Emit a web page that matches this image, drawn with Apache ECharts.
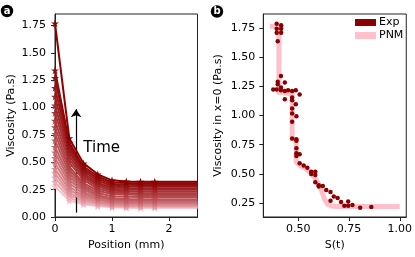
<!DOCTYPE html>
<html><head><meta charset="utf-8">
<script src="https://cdn.jsdelivr.net/npm/echarts@6/dist/echarts.min.js"></script>
<style>html,body{margin:0;padding:0;background:#fff}#c{width:415px;height:257px}</style>
</head><body><div id="c"></div>
<script>
// Panel a: positions (mm) and viscosity curves (earliest/lightest first)
const POSITIONS = [0, 0.25, 0.5, 0.75, 1.0, 1.25, 1.5, 1.75, 2.5];
const CURVES = [
  [0.28, 0.15, 0.115, 0.10, 0.088, 0.085, 0.085, 0.085, 0.085],
  [0.32, 0.175, 0.13, 0.11, 0.095, 0.092, 0.09, 0.09, 0.09],
  [0.36, 0.20, 0.145, 0.12, 0.102, 0.10, 0.10, 0.10, 0.10],
  [0.40, 0.22, 0.16, 0.13, 0.11, 0.106, 0.105, 0.105, 0.105],
  [0.44, 0.25, 0.175, 0.14, 0.12, 0.116, 0.115, 0.115, 0.115],
  [0.49, 0.28, 0.19, 0.155, 0.13, 0.126, 0.125, 0.125, 0.125],
  [0.54, 0.31, 0.21, 0.165, 0.14, 0.135, 0.133, 0.133, 0.133],
  [0.59, 0.34, 0.23, 0.175, 0.15, 0.145, 0.142, 0.142, 0.142],
  [0.64, 0.37, 0.25, 0.19, 0.162, 0.155, 0.152, 0.152, 0.152],
  [0.70, 0.40, 0.27, 0.20, 0.172, 0.165, 0.162, 0.162, 0.162],
  [0.76, 0.43, 0.29, 0.22, 0.19, 0.185, 0.182, 0.182, 0.182],
  [0.82, 0.46, 0.31, 0.24, 0.21, 0.205, 0.20, 0.20, 0.20],
  [0.88, 0.50, 0.34, 0.26, 0.225, 0.22, 0.216, 0.216, 0.216],
  [0.95, 0.53, 0.36, 0.28, 0.24, 0.235, 0.232, 0.232, 0.232],
  [1.02, 0.56, 0.38, 0.295, 0.255, 0.25, 0.248, 0.248, 0.248],
  [1.10, 0.59, 0.40, 0.31, 0.27, 0.265, 0.262, 0.262, 0.262],
  [1.18, 0.62, 0.42, 0.33, 0.285, 0.28, 0.278, 0.278, 0.278],
  [1.27, 0.65, 0.44, 0.35, 0.30, 0.295, 0.292, 0.292, 0.292],
  [1.34, 0.68, 0.46, 0.37, 0.315, 0.31, 0.308, 0.308, 0.308],
  [1.77, 0.72, 0.49, 0.39, 0.335, 0.325, 0.322, 0.322, 0.322]
];
const LEFT_Y_TICKS = [0, 0.25, 0.5, 0.75, 1.0, 1.25, 1.5, 1.75];
const LEFT_X_TICKS = [0, 1, 2];

// Panel b: S(t) vs viscosity at x=0
const EXP_S = [0.394,0.416,0.394,0.416,0.394,0.416,0.399,0.415,0.399,0.399,0.434,0.377,0.394,0.415,0.415,0.434,0.450,0.470,0.488,0.507,0.434,0.470,0.470,0.488,0.470,0.470,0.491,0.470,0.470,0.491,0.491,0.491,0.491,0.491,0.507,0.507,0.527,0.545,0.564,0.564,0.584,0.584,0.584,0.601,0.601,0.621,0.638,0.659,0.675,0.694,0.659,0.711,0.727,0.746,0.746,0.767,0.805,0.860];
const EXP_V = [1.785,1.773,1.742,1.742,1.708,1.708,1.636,1.338,1.290,1.267,1.282,1.222,1.222,1.239,1.216,1.210,1.216,1.210,1.216,1.179,1.139,1.154,1.131,1.097,1.060,1.017,0.994,0.946,0.804,0.796,0.784,0.719,0.676,0.653,0.668,0.591,0.571,0.553,0.519,0.500,0.519,0.491,0.429,0.403,0.392,0.397,0.363,0.344,0.306,0.293,0.270,0.259,0.227,0.227,0.264,0.233,0.210,0.216];
const PNM_S = [0.36,0.405,0.405,0.44,0.47,0.47,0.49,0.49,0.51,0.535,0.56,0.58,0.595,0.61,0.62,0.63,0.645,0.665,0.70,1.0];
const PNM_V = [1.765,1.765,1.20,1.19,1.185,0.80,0.79,0.60,0.57,0.545,0.51,0.47,0.43,0.38,0.33,0.28,0.24,0.225,0.22,0.22];
const RIGHT_X_TICKS = [0.5, 0.75, 1.0];
const RIGHT_Y_TICKS = [0.25, 0.5, 0.75, 1.0, 1.25, 1.5, 1.75];

const FONT = 'DejaVu Sans';
const AX = '#222';
const STAR = 'path://M50,0 L61,35 L98,35 L68,57 L79,91 L50,70 L21,91 L32,57 L2,35 L39,35 Z';

function mix(i, n) {
  const a = [248, 190, 200], b = [139, 0, 0];
  const t = Math.pow(n > 1 ? i / (n - 1) : 1, 0.8);
  const c = a.map((v, k) => Math.round(v + (b[k] - v) * t));
  return 'rgb(' + c.join(',') + ')';
}

const series = [];
CURVES.forEach((vals, i) => {
  const col = mix(i, CURVES.length);
  const data = vals.map((v, k) => {
    const pt = [POSITIONS[k], v];
    return k === vals.length - 1 ? { value: pt, symbol: 'none' } : pt;
  });
  series.push({
    type: 'line', xAxisIndex: 0, yAxisIndex: 0, data,
    symbol: STAR, symbolSize: 8, showSymbol: true, showAllSymbol: true, clip: true,
    lineStyle: { color: col, width: 2 }, itemStyle: { color: col, opacity: 1 },
    silent: true, animation: false, z: 2 + i
  });
});
// arrow "Time"
series.push({
  type: 'line', xAxisIndex: 0, yAxisIndex: 0, data: [], silent: true, animation: false,
  markLine: {
    silent: true, animation: false, symbol: ['none', 'arrow'], symbolSize: 8,
    label: { show: false },
    lineStyle: { color: '#000', width: 1.2, type: 'solid' },
    data: [[{ coord: [0.37, 0.04] }, { coord: [0.37, 0.985] }]]
  }, z: 50
});
series.push({
  name: 'PNM', type: 'line', xAxisIndex: 1, yAxisIndex: 1,
  data: PNM_S.map((s, i) => [s, PNM_V[i]]), symbol: 'none',
  lineStyle: { color: '#ffc0cb', width: 5, join: 'miter' }, itemStyle: { color: '#ffc0cb' },
  silent: true, animation: false, z: 2
});
series.push({
  name: 'Exp', type: 'scatter', xAxisIndex: 1, yAxisIndex: 1,
  data: EXP_S.map((s, i) => [s, EXP_V[i]]), symbol: 'circle', symbolSize: 4.5,
  itemStyle: { color: '#8b0000', opacity: 1 }, silent: true, animation: false, z: 3
});

const axCommon = {
  axisLine: { show: true, onZero: false, lineStyle: { color: AX, width: 1 } },
  axisTick: { show: true, length: 4, lineStyle: { color: AX } },
  splitLine: { show: false },
  axisLabel: { color: '#000', fontFamily: FONT, fontSize: 11 },
  nameTextStyle: { color: '#000', fontFamily: FONT, fontSize: 11 }
};

const option = {
  animation: false,
  textStyle: { fontFamily: FONT },
  grid: [
    { left: 55, top: 14, width: 142.5, height: 203, show: true, borderColor: AX, borderWidth: 1, backgroundColor: 'transparent' },
    { left: 263.3, top: 14, width: 143.4, height: 203, show: true, borderColor: AX, borderWidth: 1, backgroundColor: 'transparent' }
  ],
  xAxis: [
    Object.assign({}, axCommon, {
      gridIndex: 0, type: 'value', min: 0, max: 2.5, interval: 1,
      name: 'Position (mm)', nameLocation: 'middle', nameGap: 22,
      axisLabel: Object.assign({}, axCommon.axisLabel, { margin: 7, customValues: LEFT_X_TICKS, formatter: v => String(Math.round(v)) }),
      axisTick: Object.assign({}, axCommon.axisTick, { customValues: LEFT_X_TICKS })
    }),
    Object.assign({}, axCommon, {
      gridIndex: 1, type: 'value', min: 0.328, max: 1.032,
      name: 'S(t)', nameLocation: 'middle', nameGap: 22,
      axisLabel: Object.assign({}, axCommon.axisLabel, { margin: 7, customValues: RIGHT_X_TICKS, formatter: v => v.toFixed(2) }),
      axisTick: Object.assign({}, axCommon.axisTick, { customValues: RIGHT_X_TICKS })
    })
  ],
  yAxis: [
    Object.assign({}, axCommon, {
      gridIndex: 0, type: 'value', min: 0, max: 1.855,
      name: 'Viscosity (Pa.s)', nameLocation: 'middle', nameGap: 38,
      axisLabel: Object.assign({}, axCommon.axisLabel, { margin: 9, customValues: LEFT_Y_TICKS, formatter: v => v.toFixed(2) }),
      axisTick: Object.assign({}, axCommon.axisTick, { customValues: LEFT_Y_TICKS })
    }),
    Object.assign({}, axCommon, {
      gridIndex: 1, type: 'value', min: 0.131, max: 1.869,
      name: 'Viscosity in x=0 (Pa.s)', nameLocation: 'middle', nameGap: 40,
      axisLabel: Object.assign({}, axCommon.axisLabel, { margin: 8, customValues: RIGHT_Y_TICKS, formatter: v => v.toFixed(2) }),
      axisTick: Object.assign({}, axCommon.axisTick, { customValues: RIGHT_Y_TICKS })
    })
  ],
  legend: {
    orient: 'vertical', left: 355, top: 17, itemWidth: 21, itemHeight: 7, itemGap: 2,
    padding: 0, icon: 'rect', data: ['Exp', 'PNM'],
    textStyle: { color: '#000', fontFamily: FONT, fontSize: 11, padding: [0, 0, 0, -2] },
    selectedMode: false
  },
  graphic: [
    { type: 'circle', shape: { cx: 7, cy: 11, r: 6.2 }, style: { fill: '#000' }, silent: true },
    { type: 'text', x: 7, y: 11, style: { text: 'a', fill: '#fff', font: 'bold 10px "DejaVu Sans"', align: 'center', verticalAlign: 'middle' }, silent: true },
    { type: 'circle', shape: { cx: 217, cy: 11.5, r: 6.2 }, style: { fill: '#000' }, silent: true },
    { type: 'text', x: 217, y: 11.5, style: { text: 'b', fill: '#fff', font: 'bold 10px "DejaVu Sans"', align: 'center', verticalAlign: 'middle' }, silent: true },
    { type: 'text', x: 83.3, y: 148, style: { text: 'Time', fill: '#000', font: '15px "DejaVu Sans"', align: 'left', verticalAlign: 'middle' }, silent: true, z: 100 }
  ],
  series
};

const chart = echarts.init(document.getElementById('c'), null, { renderer: 'canvas' });
chart.setOption(option);
</script>
</body></html>
